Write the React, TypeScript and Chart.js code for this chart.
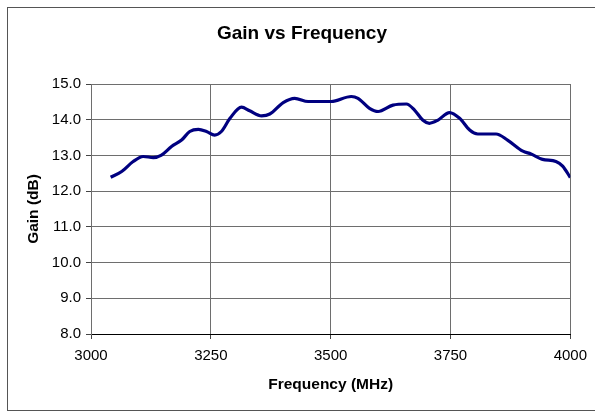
import React, { useEffect, useRef } from "react";
import { Chart, registerables } from "chart.js";

Chart.register(...registerables);

const chartTitle = "Gain vs Frequency";
const xTitle = "Frequency (MHz)";
const yTitle = "Gain (dB)";

const frequency = [
  3041, 3064, 3088, 3109, 3130, 3147, 3168, 3189, 3206, 3224, 3241, 3258, 3272,
  3290, 3314, 3331, 3356, 3373, 3401, 3425, 3453, 3501, 3543, 3557, 3581, 3599,
  3630, 3658, 3675, 3692, 3706, 3724, 3748, 3769, 3790, 3807, 3845, 3869, 3901,
  3918, 3942, 3970, 3984, 4000,
];
const gain = [
  12.39, 12.55, 12.83, 12.97, 12.94, 13.01, 13.25, 13.43, 13.67, 13.73, 13.67,
  13.57, 13.67, 14.04, 14.35, 14.25, 14.11, 14.16, 14.48, 14.6, 14.51, 14.51,
  14.65, 14.6, 14.32, 14.23, 14.41, 14.44, 14.27, 13.99, 13.9, 13.99, 14.2,
  14.04, 13.71, 13.6, 13.6, 13.43, 13.12, 13.04, 12.89, 12.83, 12.7, 12.38,
];

const FONT = "'Liberation Sans', Arial, sans-serif";

const decorPlugin = {
  id: "decor",
  afterDraw(chart: any) {
    const ctx = chart.ctx;
    ctx.save();
    ctx.strokeStyle = "#555";
    ctx.lineWidth = 1;
    ctx.strokeRect(7.5, 7.5, 600, 403);
    ctx.fillStyle = "#000";
    ctx.font = `bold 19px ${FONT}`;
    ctx.textAlign = "center";
    ctx.textBaseline = "middle";
    ctx.fillText(chartTitle, 302, 34);
    ctx.restore();
  },
};

export default function App() {
  const ref = useRef<HTMLCanvasElement>(null);
  useEffect(() => {
    if (!ref.current) return;
    const data = frequency.map((f, i) => ({ x: f, y: gain[i] }));
    const chart = new Chart(ref.current, {
      type: "line",
      data: {
        datasets: [
          {
            data,
            borderColor: "#000080",
            borderWidth: 3.2,
            pointRadius: 0,
            fill: false,
            tension: 0.4,
            cubicInterpolationMode: "monotone",
          } as any,
        ],
      },
      options: {
        animation: false,
        responsive: false,
        maintainAspectRatio: false,
        layout: { padding: { top: 84, right: 24, bottom: 0, left: 0 } },
        plugins: {
          legend: { display: false },
          title: { display: false },
          tooltip: { enabled: false },
        },
        scales: {
          x: {
            type: "linear",
            min: 3000,
            max: 4000,
            afterFit: (s: any) => {
              s.height = 78;
            },
            ticks: {
              stepSize: 250,
              color: "#000",
              font: { family: FONT, size: 15 },
              padding: 8,
              maxRotation: 0,
              callback: (v: any) => String(v),
            },
            grid: {
              color: "#6e6e6e",
              tickLength: 5,
              tickColor: "#444",
            },
            border: { color: "#000", width: 1 },
            title: {
              display: true,
              text: xTitle,
              color: "#000",
              font: { family: FONT, size: 15.5, weight: "bold" },
              padding: { top: 0, bottom: 18 },
            },
          },
          y: {
            type: "linear",
            min: 8,
            max: 15,
            afterFit: (s: any) => {
              s.width = 91;
            },
            ticks: {
              stepSize: 1,
              color: "#000",
              font: { family: FONT, size: 15 },
              padding: 5,
              callback: (v: any) => Number(v).toFixed(1),
            },
            grid: {
              color: "#6e6e6e",
              tickLength: 5,
              tickColor: "#444",
            },
            border: { color: "#6e6e6e", width: 1 },
            title: {
              display: true,
              text: yTitle,
              color: "#000",
              font: { family: FONT, size: 15.5, weight: "bold" },
              padding: { top: 24, bottom: 0 },
            },
          },
        },
      },
      plugins: [decorPlugin],
    });
    return () => chart.destroy();
  }, []);
  return (
    <div style={{ position: "absolute", left: 0, top: 0, width: 595, height: 412, background: "#fff" }}>
      <canvas ref={ref} width={595} height={412} style={{ display: "block" }} />
    </div>
  );
}
